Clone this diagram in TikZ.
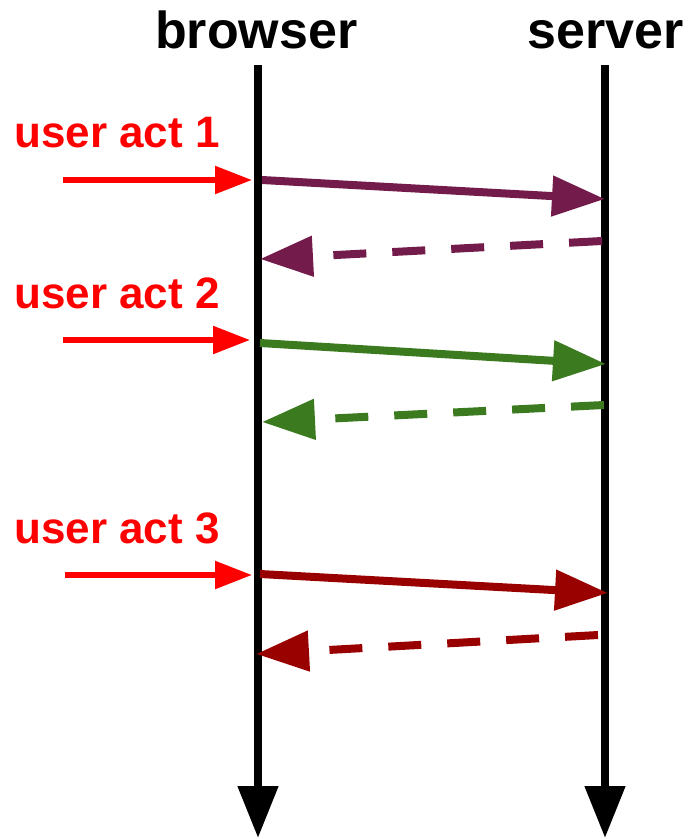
\documentclass[tikz,border=0pt]{standalone}
\usepackage{fontspec}
\setmainfont{Liberation Sans}
\usetikzlibrary{arrows.meta}
\definecolor{cpurple}{HTML}{731B4B}
\definecolor{cgreen}{HTML}{3B7A1E}
\definecolor{cdred}{HTML}{990000}
\definecolor{cred}{HTML}{FF0000}
\begin{document}
\begin{tikzpicture}[x=1pt,y=-1pt,
  life/.style={line width=8pt,-{Triangle[length=52pt,width=39pt]}},
  req/.style={line width=8pt,-{Triangle[length=53pt,width=39pt]}},
  resp/.style={line width=8pt,dash pattern=on 33pt off 26pt,-{Triangle[length=53pt,width=39pt]}},
  act/.style={line width=5.5pt,cred,-{Triangle[length=37pt,width=27pt]}},
  head/.style={font=\fontsize{52}{60}\selectfont\bfseries,anchor=base west,inner sep=0pt},
  lbl/.style={font=\fontsize{44}{50}\selectfont\bfseries,text=cred,anchor=base west,inner sep=0pt}]
\useasboundingbox (0,0) rectangle (690,839);
\node[head] (browser) at (155,48) {browser};
\node[head] (server) at (527,48) {server};
\coordinate (bt) at (258,65);
\coordinate (bb) at (258,838);
\coordinate (st) at (605,65);
\coordinate (sb) at (605,838);
\draw[life] (bt) -- (bb);
\draw[life] (st) -- (sb);
% set 1
\node[lbl] (l1) at (14,147) {user act 1};
\coordinate (u1s) at (63,180); \coordinate (u1e) at (252,180);
\draw[act] (u1s) -- (u1e);
\coordinate (q1s) at (262,180); \coordinate (q1e) at (605,199);
\draw[req,cpurple] (q1s) -- (q1e);
\coordinate (r1s) at (602,241); \coordinate (r1e) at (260,259);
\draw[resp,cpurple] (r1s) -- (r1e);
% set 2
\node[lbl] (l2) at (14,308) {user act 2};
\coordinate (u2s) at (63,340); \coordinate (u2e) at (250,340);
\draw[act] (u2s) -- (u2e);
\coordinate (q2s) at (260,343); \coordinate (q2e) at (606,364);
\draw[req,cgreen] (q2s) -- (q2e);
\coordinate (r2s) at (604,405); \coordinate (r2e) at (262,422);
\draw[resp,cgreen] (r2s) -- (r2e);
% set 3
\node[lbl] (l3) at (14,543) {user act 3};
\coordinate (u3s) at (65,575); \coordinate (u3e) at (252,575);
\draw[act] (u3s) -- (u3e);
\coordinate (q3s) at (260,574); \coordinate (q3e) at (608,593);
\draw[req,cdred] (q3s) -- (q3e);
\coordinate (r3s) at (598,635); \coordinate (r3e) at (256,654);
\draw[resp,cdred] (r3s) -- (r3e);
\end{tikzpicture}
\end{document}
